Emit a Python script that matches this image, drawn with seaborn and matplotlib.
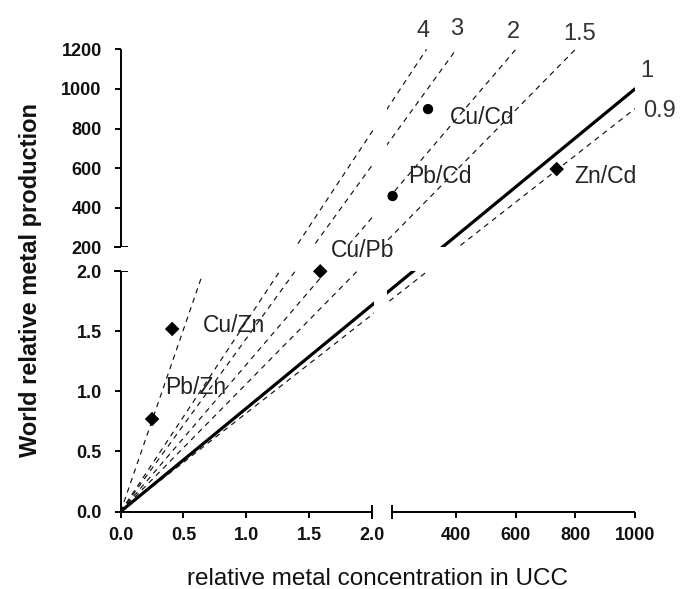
import numpy as np
import pandas as pd
import matplotlib
matplotlib.use("Agg")
import matplotlib.pyplot as plt
import seaborn as sns

# ratio reference lines (drawn from the origin to these end points)
ratio_labels = ["4", "3", "2", "1.5", "1", "0.9"]
ratio_end_x = [300, 400, 600, 800, 1000, 1000]
ratio_end_y = [1200, 1200, 1200, 1200, 1000, 900]

# steep line in the low segment
steep_x = [0, 0.65]
steep_y = [0, 1.97]

# metal pairs
pairs = ["Cu/Cd", "Pb/Cd", "Zn/Cd", "Cu/Pb", "Cu/Zn", "Pb/Zn"]
ucc_conc = [305, 186, 737, 1.59, 0.41, 0.25]
world_prod = [898, 459, 595, 2.0, 1.52, 0.77]
pair_shape = ["circle", "circle", "diamond", "diamond", "diamond", "diamond"]

xticks = [0, 0.5, 1, 1.5, 2, 400, 600, 800, 1000]
xticklabels = ["0.0", "0.5", "1.0", "1.5", "2.0", "400", "600", "800", "1000"]
yticks = [0, 0.5, 1, 1.5, 2, 200, 400, 600, 800, 1000, 1200]
yticklabels = ["0.0", "0.5", "1.0", "1.5", "2.0", "200", "400", "600", "800", "1000", "1200"]

# segmented axes: data break points and their screen share
x_segments = [(0, 2), (185, 1000)]
y_segments = [(0, 2), (200, 1200)]
x_break = [0, 2, 185, 1000]
x_screen = [0, 251, 271.6, 514.3]
y_break = [0, 2, 200, 1200]
y_screen = [0, 240.2, 264.2, 462.2]


def piecewise(v, src, dst):
    v = np.asarray(v, float)
    out = np.interp(v, src, dst)
    lo_slope = (dst[1] - dst[0]) / (src[1] - src[0])
    hi_slope = (dst[-1] - dst[-2]) / (src[-1] - src[-2])
    out = np.where(v < src[0], dst[0] + (v - src[0]) * lo_slope, out)
    out = np.where(v > src[-1], dst[-1] + (v - src[-1]) * hi_slope, out)
    return out


def segmented(src, dst):
    return (lambda v: piecewise(v, src, dst), lambda v: piecewise(v, dst, src))


sns.set_theme(style="white")
plt.rcParams["font.family"] = ["Liberation Sans", "DejaVu Sans"]

fig = plt.figure(figsize=(6.8, 5.89), dpi=100)
ax = fig.add_axes([120.7 / 680, 77.5 / 589, 514.3 / 680, 462.2 / 589])

for lab, xe, ye in zip(ratio_labels, ratio_end_x, ratio_end_y):
    d = pd.DataFrame({"x": [0, xe], "y": [0, ye]})
    if lab == "1":
        sns.lineplot(data=d, x="x", y="y", color="black", lw=2.3, sort=False,
                     estimator=None, ax=ax, zorder=2)
    else:
        sns.lineplot(data=d, x="x", y="y", color="#111111", lw=0.85, sort=False,
                     estimator=None, ax=ax, linestyle=(0, (4.5, 4)), zorder=2)

sns.lineplot(x=steep_x, y=steep_y, color="#111111", lw=0.85, sort=False, estimator=None,
             ax=ax, linestyle=(0, (4.5, 4)), zorder=2)

pts = pd.DataFrame({"pair": pairs, "x": ucc_conc, "y": world_prod, "shape": pair_shape})
sns.scatterplot(data=pts, x="x", y="y", style="shape",
                markers={"circle": "o", "diamond": "D"}, color="black",
                s=55, linewidth=0, legend=False, ax=ax, zorder=5)

ax.set_xscale("function", functions=segmented(x_break, x_screen))
ax.set_yscale("function", functions=segmented(y_break, y_screen))
ax.set_xlim(0, 1000)
ax.set_ylim(0, 1200)

# white strips hide the lines inside the breaks
ax.axvspan(18, 142, color="white", lw=0, zorder=3)
ax.axhspan(2, 200, color="white", lw=0, zorder=3)

for s in ax.spines.values():
    s.set_visible(False)
for a, b in x_segments:
    ax.plot([a, b], [0, 0], color="black", lw=1.4, clip_on=False, zorder=6,
            solid_capstyle="butt")
for a, b in y_segments:
    ax.plot([0, 0], [a, b], color="black", lw=1.4, clip_on=False, zorder=6,
            solid_capstyle="butt")

ax.set_xticks(xticks)
ax.set_xticklabels(xticklabels)
ax.set_yticks(yticks)
ax.set_yticklabels(yticklabels)
ax.set_xticks([x_segments[0][1], x_segments[1][0]], minor=True)
ax.set_yticks([y_segments[0][1], y_segments[1][0]], minor=True)
ax.xaxis.remove_overlapping_locs = False
ax.yaxis.remove_overlapping_locs = False
ax.tick_params(which="major", direction="out", length=4.3, width=1.4, color="black",
               labelsize=13, labelcolor="#111111")
ax.tick_params(axis="x", which="major", pad=7, bottom=True)
ax.tick_params(axis="y", which="major", pad=9.4, left=True)
ax.tick_params(which="minor", direction="inout", length=10, width=1.4, color="black",
               bottom=True, left=True)
plt.setp(ax.get_xticklabels() + ax.get_yticklabels(), fontweight="bold")

ratio_offsets = {"4": (-3, 18), "3": (0, 20), "2": (-2, 17), "1.5": (4, 15),
                 "1": (12, 18), "0.9": (24, -2)}
for lab, xe, ye in zip(ratio_labels, ratio_end_x, ratio_end_y):
    ax.annotate(lab, (xe, ye), xytext=ratio_offsets[lab], textcoords="offset pixels",
                ha="center", va="center", fontsize=17, color="#333333",
                annotation_clip=False, zorder=7)

pair_offsets = {"Cu/Cd": (22, -8), "Pb/Cd": (16, 20), "Zn/Cd": (18, -7),
                "Cu/Pb": (11, 21), "Cu/Zn": (31, 3), "Pb/Zn": (13, 32)}
for p, x, y in zip(pairs, ucc_conc, world_prod):
    ax.annotate(p, (x, y), xytext=pair_offsets[p], textcoords="offset pixels",
                ha="left", va="center", fontsize=16.5, color="#222222",
                annotation_clip=False, zorder=7)

ax.set_xlabel("relative metal concentration in UCC", fontsize=17.5, color="#111111",
              labelpad=17)
ax.set_ylabel("World relative metal production", fontsize=17, fontweight="bold",
              color="#111111", labelpad=14)

fig.savefig("out.png", dpi=100)
